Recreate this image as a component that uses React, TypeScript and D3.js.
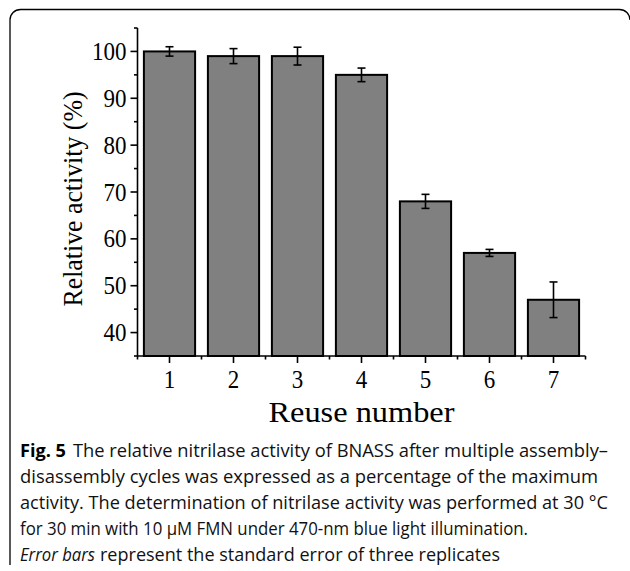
import React from "react";
import * as d3 from "d3";

const reuseNumbers = [1, 2, 3, 4, 5, 6, 7];
const relativeActivity = [100, 99, 99, 95, 68, 57, 47];
const standardError = [1.0, 1.6, 1.9, 1.45, 1.5, 0.75, 3.8];
const yTickValues = [40, 50, 60, 70, 80, 90, 100];
const yMinorTicks = [35, 45, 55, 65, 75, 85, 95, 105];
const xMinorTicks = [0.5, 1.5, 2.5, 3.5, 4.5, 5.5, 6.5, 7.5];
const xLabel = "Reuse number";
const yLabel = "Relative activity (%)";
const captionLines = [
  "The relative nitrilase activity of BNASS after multiple assembly–",
  "disassembly cycles was expressed as a percentage of the maximum",
  "activity. The determination of nitrilase activity was performed at 30 °C",
  "for 30 min with 10 µM FMN under 470-nm blue light illumination.",
  "represent the standard error of three replicates",
];

export default function App() {
  const W = 630;
  const H = 571;
  const x = d3.scaleLinear().domain([0.5, 7.5]).range([137.5, 585.5]);
  const y = d3.scaleLinear().domain([35, 105]).range([356, 28]);
  const step = x(1) - x(0);
  const bw = step * 0.8;
  const serif = "'Liberation Serif', 'Times New Roman', serif";
  const sans = "'Open Sans', 'Noto Sans', sans-serif";
  const capW = 4;
  const captionBase = [457, 483, 509, 535, 561];
  const captionEnds = [608, 598, 608, 528, 500];
  const cfs = 18.5;

  return (
    <svg
      width={W}
      height={H}
      style={{ position: "absolute", left: 0, top: 0, background: "#fff" }}
    >
      {/* frame */}
      <path
        d="M10,565 L10,20 A10.5,10.5 0 0 1 20.5,9.5 L619.5,9.5 A10.5,10.5 0 0 1 630,20"
        fill="none"
        stroke="#000"
        strokeWidth={1.3}
      />

      {/* bars */}
      {reuseNumbers.map((r, i) => (
        <rect
          key={"b" + r}
          x={x(r) - bw / 2}
          y={y(relativeActivity[i])}
          width={bw}
          height={y(35) - y(relativeActivity[i])}
          fill="#808080"
          stroke="#000"
          strokeWidth={2}
        />
      ))}

      {/* error bars */}
      {reuseNumbers.map((r, i) => {
        const cx = x(r);
        const top = y(relativeActivity[i] + standardError[i]);
        const bot = y(relativeActivity[i] - standardError[i]);
        return (
          <g key={"e" + r} stroke="#000" strokeWidth={1.6}>
            <line x1={cx} x2={cx} y1={top} y2={bot} />
            <line x1={cx - capW} x2={cx + capW} y1={top} y2={top} />
            <line x1={cx - capW} x2={cx + capW} y1={bot} y2={bot} />
          </g>
        );
      })}

      {/* axes */}
      <g stroke="#000" strokeWidth={1.6}>
        <line x1={x(0.5)} x2={x(0.5)} y1={y(105)} y2={y(35)} />
        <line x1={x(0.5)} x2={x(7.5)} y1={y(35)} y2={y(35)} />
        {yTickValues.map((v) => (
          <line key={"yt" + v} x1={x(0.5) - 7} x2={x(0.5)} y1={y(v)} y2={y(v)} />
        ))}
        {yMinorTicks.map((v) => (
          <line key={"ym" + v} x1={x(0.5) - 3.5} x2={x(0.5)} y1={y(v)} y2={y(v)} />
        ))}
        {reuseNumbers.map((v) => (
          <line key={"xt" + v} x1={x(v)} x2={x(v)} y1={y(35)} y2={y(35) + 7} />
        ))}
        {xMinorTicks.map((v) => (
          <line key={"xm" + v} x1={x(v)} x2={x(v)} y1={y(35)} y2={y(35) + 3.5} />
        ))}
      </g>

      {/* y tick labels */}
      {yTickValues.map((v) => (
        <text
          key={"yl" + v}
          transform={`translate(${x(0.5) - 11},${y(v) + 8.5}) scale(0.92,1)`}
          textAnchor="end"
          fontFamily={serif}
          fontSize={25}
          fill="#000"
        >
          {v}
        </text>
      ))}

      {/* x tick labels */}
      {reuseNumbers.map((v) => (
        <text
          key={"xl" + v}
          transform={`translate(${x(v)},${388}) scale(0.92,1)`}
          textAnchor="middle"
          fontFamily={serif}
          fontSize={25}
          fill="#000"
        >
          {v}
        </text>
      ))}

      {/* axis titles */}
      <text
        x={(x(0.5) + x(7.5)) / 2}
        y={422}
        textAnchor="middle"
        fontFamily={serif}
        fontSize={30}
        textLength={186}
        lengthAdjust="spacingAndGlyphs"
        fill="#000"
      >
        {xLabel}
      </text>
      <text
        transform={`translate(82,199) rotate(-90)`}
        textAnchor="middle"
        fontFamily={serif}
        fontSize={28}
        textLength={215}
        lengthAdjust="spacingAndGlyphs"
        fill="#000"
      >
        {yLabel}
      </text>

      {/* caption */}
      <text x={20} y={captionBase[0]} fontFamily={sans} fontSize={cfs} fontWeight={700} fill="#000"
        textLength={46} lengthAdjust="spacingAndGlyphs">
        Fig. 5
      </text>
      <text
        x={73}
        y={captionBase[0]}
        fontFamily={sans}
        fontSize={cfs}
        fill="#111"
        textLength={captionEnds[0] - 73}
        lengthAdjust="spacingAndGlyphs"
      >
        {captionLines[0]}
      </text>
      {[1, 2, 3].map((i) => (
        <text
          key={"c" + i}
          x={20}
          y={captionBase[i]}
          fontFamily={sans}
          fontSize={cfs}
          fill="#111"
          textLength={captionEnds[i] - 20}
          lengthAdjust="spacingAndGlyphs"
        >
          {captionLines[i]}
        </text>
      ))}
      <text
        x={20}
        y={captionBase[4]}
        fontFamily={sans}
        fontSize={cfs}
        fontStyle="italic"
        fill="#111"
        textLength={75}
        lengthAdjust="spacingAndGlyphs"
      >
        Error bars
      </text>
      <text
        x={100}
        y={captionBase[4]}
        fontFamily={sans}
        fontSize={cfs}
        fill="#111"
        textLength={captionEnds[4] - 100}
        lengthAdjust="spacingAndGlyphs"
      >
        {captionLines[4]}
      </text>
    </svg>
  );
}
